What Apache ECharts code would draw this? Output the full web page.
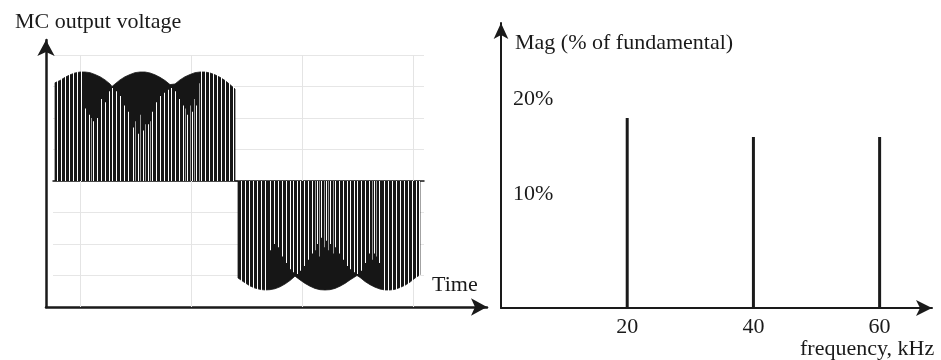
<!DOCTYPE html>
<html>
<head>
<meta charset="utf-8">
<script src="https://cdn.jsdelivr.net/npm/echarts@6/dist/echarts.min.js"></script>
<style>
  html, body { margin: 0; padding: 0; background: #fff; }
  #chart { width: 941px; height: 360px; }
</style>
</head>
<body>
<div id="chart"></div>
<script>
// left panel: time in degrees of the output period, voltage in grid units
const posEnvelope = [[0, 0], [0, 3.12], [5, 3.19], [10, 3.29], [15, 3.37], [20, 3.43], [25, 3.46], [30, 3.46],
  [35, 3.44], [40, 3.38], [45, 3.31], [50, 3.21], [55, 3.08], [57, 3.0], [60, 3.08], [65, 3.21], [70, 3.31],
  [75, 3.38], [80, 3.44], [85, 3.46], [90, 3.46], [95, 3.43], [100, 3.37], [105, 3.29], [110, 3.19], [115, 3.06],
  [117, 3.0], [120, 3.08], [125, 3.21], [130, 3.31], [135, 3.38], [140, 3.44], [145, 3.46], [150, 3.46],
  [155, 3.43], [160, 3.37], [165, 3.29], [170, 3.19], [175, 3.06], [180, 2.92], [180, 0]];
const negEnvelope = [[183, 0], [183, -3.08], [185, -3.11], [190, -3.23], [195, -3.33], [200, -3.40], [205, -3.44],
  [210, -3.46], [215, -3.45], [220, -3.42], [225, -3.36], [230, -3.27], [235, -3.16], [240, -3.02], [245, -3.14],
  [250, -3.25], [255, -3.34], [260, -3.41], [265, -3.45], [270, -3.46], [275, -3.45], [280, -3.41], [285, -3.34],
  [290, -3.25], [295, -3.14], [302, -3.0], [305, -3.06], [310, -3.19], [315, -3.29], [320, -3.37], [325, -3.43],
  [330, -3.46], [335, -3.46], [340, -3.44], [345, -3.38], [350, -3.31], [355, -3.21], [360, -3.08], [365, -2.98], [365, 0]];

// switching gaps (zero level) reaching the envelope
const posFullGaps = [2.5, 6.5, 10.5, 14.5, 18.5, 22.5, 26.5, 146.5, 150.5, 154.5, 158.5, 162.5, 166.5, 170.5,
  174.5, 178.5];
const negFullGaps = [186.5, 190.5, 194.5, 198.5, 202.5, 206.5, 210.5, 329.5, 333.5, 337.5, 341.5, 345.5, 349.5,
  353.5, 357.5, 361.5, 364.5];
// gaps that only reach the middle line voltage
const posPartGaps = [[30.5, 2.3], [34.5, 2.1], [38.5, 1.9], [42.5, 2.0], [46.5, 2.6], [50.5, 2.5], [54.5, 2.85],
  [57.5, 2.95], [61.5, 2.85], [65.5, 2.7], [69.5, 2.4], [73.5, 2.2], [78.5, 1.7], [83.5, 1.5], [88.5, 1.6],
  [93.5, 1.8], [97.5, 2.2], [101.5, 2.5], [105.5, 2.7], [109.5, 2.8], [113.5, 2.9], [116.5, 2.95], [120.5, 2.85],
  [124.5, 2.6], [128.5, 2.4], [132.5, 2.1], [137.5, 2.2], [141.5, 2.4]];
const negPartGaps = [[215.5, -2.2], [219.5, -2.0], [223.5, -2.1], [227.5, -2.4], [231.5, -2.6], [235.5, -2.8],
  [238.5, -2.9], [242.5, -2.95], [245.5, -2.85], [249.5, -2.7], [253.5, -2.5], [257.5, -2.3], [262.5, -2.0],
  [266.5, -1.8], [271.5, -1.9], [275.5, -2.0], [280.5, -2.1], [284.5, -2.3], [288.5, -2.5], [292.5, -2.7],
  [295.5, -2.8], [299.5, -2.9], [302.5, -2.95], [306.5, -2.85], [310.5, -2.6], [314.5, -2.3], [319.5, -2.3],
  [324.5, -2.6]];
// half-tone stripes inside the dark middle regions
const posGrayGaps = [[36.5, 2.0], [80.5, 1.9], [85.5, 2.1], [90.5, 1.8], [95.5, 1.9], [130.5, 2.3], [135.5, 2.4],
  [139.5, 2.6], [144.5, 3.1]];
const negGrayGaps = [[260.5, -2.2], [264.5, -2.4], [269.5, -2.1], [273.5, -2.2], [278.5, -2.3], [317.5, -2.5],
  [321.5, -2.4]];
const timeGridLines = [25, 136, 247, 358];

// right panel: harmonic spectrum
const freqKHz = [20, 40, 60];
const magPct = [18, 16, 16];
const freqTicks = [20, 40, 60];
const magTicks = [10, 20];

const INK = '#1a1a1a';
const FONT = 'Liberation Serif';
const MAG_MIN = -2;
const FULL = 3.5;

const gapData = posFullGaps.map(t => [t, FULL])
  .concat(negFullGaps.map(t => [t, -FULL]))
  .concat(posPartGaps, negPartGaps)
  .map(p => ({ value: p }))
  .concat(posGrayGaps.concat(negGrayGaps).map(p => ({ value: p, itemStyle: { color: '#9a9a9a' } })));

const hidden = { axisLabel: { show: false }, axisTick: { show: false }, splitLine: { show: false } };

function label(text, x, y) {
  return {
    type: 'text', x: x, y: y,
    style: { text: text, font: '22px "' + FONT + '"', fill: INK, textVerticalAlign: 'middle', verticalAlign: 'middle' }
  };
}

const chart = echarts.init(document.getElementById('chart'));
chart.setOption({
  animation: false,
  backgroundColor: '#fff',
  grid: [
    { left: 53, top: 55, width: 371, height: 252 },
    { left: 46, top: 40, right: 454, bottom: 53 },
    { left: 501, top: 23, right: 9, bottom: 52 }
  ],
  xAxis: [
    Object.assign({ gridIndex: 0, type: 'value', min: -2, max: 369,
      axisLine: { show: true, onZero: true, lineStyle: { color: INK, width: 1.5 } } }, hidden),
    Object.assign({ gridIndex: 1, type: 'value', min: 0, max: 1,
      axisLine: { show: true, onZero: false, symbol: ['none', 'arrow'], symbolSize: [13, 16],
        lineStyle: { color: INK, width: 2.5 } } }, hidden),
    { gridIndex: 2, type: 'value', min: 0, max: 68.3,
      axisLine: { show: true, onZero: false, symbol: ['none', 'arrow'], symbolSize: [12, 16],
        lineStyle: { color: INK, width: 2 } },
      axisTick: { show: false }, splitLine: { show: false },
      axisLabel: { customValues: freqTicks, margin: 8, fontFamily: FONT, fontSize: 22, color: INK } }
  ],
  yAxis: [
    { gridIndex: 0, type: 'value', min: -4, max: 4, interval: 1,
      axisLine: { show: false }, axisTick: { show: false }, axisLabel: { show: false },
      splitLine: { show: true, lineStyle: { color: '#e6e6e6', width: 1 } } },
    Object.assign({ gridIndex: 1, type: 'value', min: 0, max: 1,
      axisLine: { show: true, onZero: false, symbol: ['none', 'arrow'], symbolSize: [13, 16],
        lineStyle: { color: INK, width: 2.5 } } }, hidden),
    { gridIndex: 2, type: 'value', min: MAG_MIN, max: 28,
      axisLine: { show: true, onZero: false, symbol: ['none', 'arrow'], symbolSize: [11, 16],
        lineStyle: { color: INK, width: 2 } },
      axisTick: { show: false }, splitLine: { show: false },
      axisLabel: { customValues: magTicks, inside: true, margin: 12, formatter: '{value}%',
        fontFamily: FONT, fontSize: 22, color: INK } }
  ],
  graphic: [
    label('MC output voltage', 15, 22),
    label('Time', 432, 285),
    label('Mag (% of fundamental)', 515, 43),
    label('frequency, kHz', 800, 349)
  ],
  series: [
    {
      type: 'line', xAxisIndex: 0, yAxisIndex: 0, data: [], z: 1, silent: true,
      markLine: {
        z: 1, symbol: 'none', silent: true, label: { show: false },
        lineStyle: { color: '#e4e4e4', width: 1, type: 'solid' },
        data: timeGridLines.map(t => ({ xAxis: t }))
      }
    },
    {
      type: 'line', xAxisIndex: 0, yAxisIndex: 0, z: 3, silent: true,
      data: posEnvelope.concat(negEnvelope),
      showSymbol: false, symbol: 'none',
      lineStyle: { color: INK, width: 0.8 },
      areaStyle: { color: '#161616', opacity: 1 }
    },
    {
      type: 'bar', xAxisIndex: 0, yAxisIndex: 0, z: 4, silent: true,
      data: gapData, barWidth: 1,
      itemStyle: { color: '#ffffff' }
    },
    {
      type: 'custom', xAxisIndex: 2, yAxisIndex: 2, z: 3, silent: true,
      data: freqKHz.map((f, i) => [f, magPct[i]]),
      renderItem: function (params, api) {
        const top = api.coord([api.value(0), api.value(1)]);
        const base = api.coord([api.value(0), MAG_MIN]);
        return {
          type: 'line',
          shape: { x1: top[0], y1: top[1], x2: base[0], y2: base[1] },
          style: { stroke: INK, lineWidth: 3 }
        };
      }
    }
  ]
});
</script>
</body>
</html>
